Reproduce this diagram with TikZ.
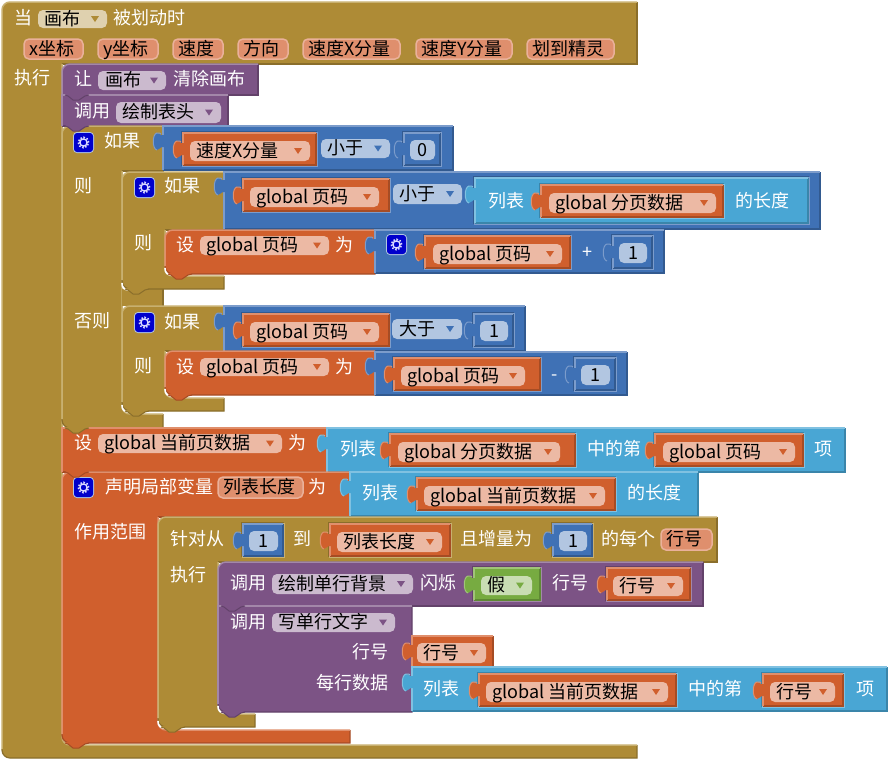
\documentclass[tikz,border=0pt]{standalone}
\usepackage{fontspec}
\setmainfont{Noto Sans CJK SC}
\definecolor{brn}{HTML}{AE8B36}\definecolor{brnL}{HTML}{C8B070}\definecolor{brnD}{HTML}{8A6E2B}
\definecolor{org}{HTML}{D05F2D}\definecolor{orgL}{HTML}{E08F6C}\definecolor{orgD}{HTML}{A64C24}
\definecolor{blu}{HTML}{3F71B5}\definecolor{bluL}{HTML}{7C9CCB}\definecolor{bluD}{HTML}{325A90}
\definecolor{cya}{HTML}{49A6D4}\definecolor{cyaL}{HTML}{80C1E1}\definecolor{cyaD}{HTML}{3A85AA}
\definecolor{pur}{HTML}{7C5385}\definecolor{purL}{HTML}{A387A9}\definecolor{purD}{HTML}{63426A}
\definecolor{grn}{HTML}{77AB41}\definecolor{grnL}{HTML}{A0C478}\definecolor{grnD}{HTML}{5F8934}
\definecolor{fOrg}{HTML}{ECB9A4}\definecolor{fBlu}{HTML}{B2C6E1}\definecolor{fPur}{HTML}{CBBACE}
\definecolor{fBrn}{HTML}{DFD1AF}\definecolor{fGrn}{HTML}{C9DDB3}\definecolor{pFill}{HTML}{DF8F6D}\definecolor{pEdge}{HTML}{EAB19A}
\newcounter{tn}
\tikzset{
  x=1pt,y=-1pt,
  lbl/.style={inner sep=0pt,anchor=west,yshift=-1.5pt,text height=12pt,text depth=3pt,font=\fontsize{18}{20}\selectfont},
  wlbl/.style={lbl,text=white},
  klbl/.style={lbl,text=black},
  edgeL/.style={line width=1.5pt,line cap=butt},
  edgeD/.style={line width=1.2pt,line cap=butt}
}
\newcommand{\tw}[3]{\stepcounter{tn}\node[wlbl] (t\thetn) at ({#1},{#2}) {#3};}
\newcommand{\tk}[3]{\stepcounter{tn}\node[klbl] (t\thetn) at ({#1},{#2}) {#3};}
\newcommand{\twr}[3]{\stepcounter{tn}\node[wlbl,anchor=east] (t\thetn) at ({#1},{#2}) {#3};}
% plain rectangular block
\newcommand{\rb}[5]{\fill[#1] (#2,#3) rectangle (#4,#5);
  \draw[#1D,edgeD] (#4,#3) -- (#4,#5) -- (#2,#5);
  \draw[#1L,edgeL] (#2,#5) -- (#2,#3) -- (#4,#3);}
% statement block with rounded corners: col x1 y1 x2 y2 rtl rbl
\newcommand{\stm}[7]{\fill[#1] (#4,#3) -- (#4,#5) [rounded corners=#7pt] -- (#2,#5) [rounded corners=#6pt] -- (#2,#3) [sharp corners] -- cycle;
  \draw[#1D,edgeD] (#4,#3) -- (#4,#5) [rounded corners=#7pt] -- (#2,#5) -- (#2,#5-#7);
  \draw[#1L,edgeL] (#2,#5-#7) [rounded corners=#6pt] -- (#2,#3) [sharp corners] -- (#4,#3);}
% C-shaped block: col x1 y1 xh yh xc yb xb ybb
\newcommand{\cshp}[9]{\fill[#1] (#2,#3+8) [rounded corners=8pt] -- (#2,#3) [sharp corners] -- (#4,#3) -- (#4,#5) -- (#6,#5) [rounded corners=8pt] -- (#6,#7) [sharp corners] -- (#8,#7) -- (#8,#9) [rounded corners=8pt] -- (#2,#9) [sharp corners] -- cycle;
  \draw[#1D,edgeD] (#4,#3) -- (#4,#5) -- (#6,#5);
  \draw[#1D,edgeD] (#8,#7) -- (#8,#9) [rounded corners=8pt] -- (#2,#9) -- (#2,#9-9);
  \draw[#1L,edgeL] (#2,#9-9) [rounded corners=8pt] -- (#2,#3) [sharp corners] -- (#4,#3);
  \draw[#1L,edgeL] (#6,#5) [rounded corners=8pt] -- (#6,#7) [sharp corners] -- (#8,#7);}
% puzzle tab on the left of a block: col x ytop
\newcommand{\tabb}[3]{\fill[#1] (#2+1,#3+2) .. controls (#2-3,#3+3) and (#2-3,#3) .. (#2-6,#3)
   .. controls (#2-11,#3+1) and (#2-11,#3+16) .. (#2-6,#3+17)
   .. controls (#2-3,#3+17) and (#2-3,#3+13) .. (#2+1,#3+14) -- cycle;
  \draw[#1L,line width=1pt] (#2-2,#3+1) .. controls (#2-3,#3) .. (#2-6,#3)
   .. controls (#2-11,#3+1) and (#2-11,#3+16) .. (#2-6,#3+17);}
% dropdown field: fill arrow x1 y1 x2 y2 textx text
\newcommand{\fd}[8]{\fill[#1,rounded corners=5pt] (#3,#4) rectangle (#5,#6);
  \fill[#2] ({#5-16},{(#4)/2+(#6)/2-3}) -- ({#5-8},{(#4)/2+(#6)/2-3}) -- ({#5-12},{(#4)/2+(#6)/2+3}) -- cycle;
  \tk{#7}{(#4)/2+(#6)/2}{#8}}
% socket outline in the parent's colours: parent x ytop x2 ybottom
\newcommand{\sock}[5]{\draw[#1D,line width=1.5pt] (#2-1,#5+1) -- (#2-1,#3-1) -- (#4+1,#3-1);
  \draw[#1L,line width=1.5pt] (#4+1,#3-1) -- (#4+1,#5+1) -- (#2-1,#5+1);}
% variable value block inside a socket: [parent] x ytop x2 fieldx1 fieldx2 text
\newcommand{\varb}[7][blu]{\sock{#1}{#2}{#3}{#4}{#3+32}
  \rb{org}{#2}{#3}{#4}{#3+32}
  \tabb{org}{#2}{#3+8}
  \fd{fOrg}{org}{#5}{#3+8}{#6}{#3+28}{#5+6}{#7}}
% number block: [parent] x y x2 text
\newcommand{\numb}[5][blu]{\sock{#1}{#2}{#3}{#4}{#3+32}
  \rb{blu}{#2}{#3}{#4}{#3+32}
  \tabb{blu}{#2}{#3+8}
  \fill[fBlu,rounded corners=5pt] (#2+6,#3+7) rectangle (#4-5,#3+27);
  \stepcounter{tn}\node[klbl,anchor=center] (t\thetn) at (#2/2+#4/2+0.5,#3+17) {#5};}
% parameter pill
\newcommand{\pil}[5]{\fill[pFill,draw=pEdge,line width=1.5pt,rounded corners=5pt] (#1,#2) rectangle (#3,#4);
  \tk{#1+5}{(#2)/2+(#4)/2}{#5}}
% notch tab hanging under a block: col x y
\newcommand{\nt}[3]{\fill[#1] (#2+3,#3-1) -- (#2+6,#3+1) -- (#2+11,#3+5) -- (#2+17,#3+5) -- (#2+23,#3+1) -- (#2+27,#3-1) -- cycle;
  \draw[#1D,line width=1pt] (#2+3,#3) -- (#2+6,#3+1) -- (#2+11,#3+5) -- (#2+17,#3+5) -- (#2+23,#3+1) -- (#2+27,#3);}
% gear icon
\newcommand{\gear}[2]{\fill[fBlu,rounded corners=4pt] (#1-1,#2-1) rectangle (#1+20,#2+20);
  \fill[blue!80!black,rounded corners=3pt] (#1,#2) rectangle (#1+19,#2+19);
  \draw[white!85!blue,line width=1.4pt] (#1+9.5,#2+9.5) circle (3.6pt);
  \draw[white!85!blue,line width=1.6pt,dash pattern=on 1.6pt off 1.6pt] (#1+9.5,#2+9.5) circle (5.2pt);}
% white sliver under a rounded corner: x ybottom
\newcommand{\sliv}[2]{\draw[white,line width=1.6pt] (#1,#2-7) .. controls (#1,#2-2) and (#1+2,#2) .. (#1+8,#2) -- (#1+20,#2);}
\begin{document}
\begin{tikzpicture}
\useasboundingbox (0,0) rectangle (891,761);
\fill[white] (0,0) rectangle (891,761);
% event block
\cshp{brn}{2}{2}{637}{64}{62}{745}{637}{758}
\tw{14}{18}{当}\fd{fBrn}{brn}{38}{10}{107}{28}{44}{画布}\tw{113}{18}{被划动时}
\pil{24}{39}{83}{59}{x坐标}\pil{98}{39}{158}{59}{y坐标}\pil{173}{39}{223}{59}{速度}\pil{238}{39}{288}{59}{方向}
\pil{303}{39}{400}{59}{速度X分量}\pil{416}{39}{512}{59}{速度Y分量}\pil{527}{39}{614}{59}{划到精灵}
\tw{14}{78}{执行}
% clear + header
\stm{pur}{62}{64}{258}{95}{8}{0}
\tw{74}{79}{让}\fd{fPur}{pur}{98}{71}{166}{90}{105}{画布}\tw{173}{79}{清除画布}
\stm{pur}{62}{95}{228}{126}{0}{0}
\tw{74}{111}{调用}\fd{fPur}{pur}{116}{102}{221}{123}{122}{绘制表头}
% outer if
\cshp{brn}{62}{126}{163}{171}{122}{414}{163}{428}
\fill[brn] (122,289) rectangle (163,306); \draw[brnD,edgeD] (163,289) -- (163,306);
\gear{74}{133}\tw{104}{141}{如果}\tw{74}{186}{则}\tw{74}{321}{否则}
\rb{blu}{163}{126}{453}{170}\tabb{blu}{163}{133}
\varb{183}{133}{316}{190}{310}{速度X分量}
\fd{fBlu}{blu}{321}{139}{390}{158}{327}{小于}
\numb{404}{133}{440}{0}
% inner if 1
\cshp{brn}{122}{172}{224}{230}{165}{276}{224}{289}
\gear{135}{178}\tw{164}{186}{如果}\tw{134}{243}{则}
\rb{blu}{224}{172}{820}{229}\tabb{blu}{224}{178}
\varb{243}{179}{389}{250}{379}{global 页码}
\fd{fBlu}{blu}{393}{184}{462}{204}{399}{小于}
\sock{blu}{475}{178}{808}{223}
\rb{cya}{475}{178}{808}{223}\tabb{cya}{475}{186}
\tw{488}{201}{列表}\varb[cya]{541}{185}{723}{549}{716}{global 分页数据}\tw{735}{201}{的长度}
\stm{org}{165}{230}{375}{274}{8}{8}\sliv{165}{275}
\tw{176}{245}{设}\fd{fOrg}{org}{200}{236}{329}{255}{206}{global 页码}\tw{335}{245}{为}
\rb{blu}{375}{230}{664}{273}\tabb{blu}{375}{237}
\gear{387}{235}\varb{425}{236}{570}{433}{562}{global 页码}\tw{582}{252}{+}\numb{613}{236}{652}{1}
% inner if 2
\cshp{brn}{122}{306}{224}{351}{165}{398}{224}{411}
\gear{135}{313}\tw{164}{322}{如果}\tw{134}{366}{则}
\rb{blu}{224}{306}{525}{351}\tabb{blu}{224}{313}
\varb{243}{314}{389}{250}{379}{global 页码}
\fd{fBlu}{blu}{392}{319}{462}{339}{399}{大于}
\numb{474}{314}{513}{1}
\stm{org}{165}{351}{375}{395}{8}{8}\sliv{165}{396}
\tw{176}{367}{设}\fd{fOrg}{org}{200}{358}{329}{376}{206}{global 页码}\tw{335}{367}{为}
\rb{blu}{375}{352}{627}{395}\tabb{blu}{375}{358}
\varb{394}{358}{540}{401}{525}{global 页码}\tw{551}{374}{-}\numb{575}{358}{615}{1}
% set current page data
\stm{org}{62}{428}{327}{472}{0}{0}
\tw{74}{443}{设}\fd{fOrg}{org}{98}{434}{282}{453}{104}{global 当前页数据}\tw{288}{443}{为}
\rb{cya}{327}{428}{845}{472}\tabb{cya}{327}{435}
\tw{340}{449}{列表}\varb[cya]{390}{434}{575}{398}{560}{global 分页数据}\tw{587}{449}{中的第}
\varb[cya]{655}{434}{803}{663}{795}{global 页码}\tw{814}{449}{项}
% local variable
\cshp{org}{62}{472}{350}{517}{158}{730}{350}{743}
\gear{74}{478}\tw{105}{487}{声明局部变量}\pil{218}{477}{303}{498}{列表长度}\tw{308}{487}{为}\tw{74}{532}{作用范围}
\rb{cya}{350}{472}{698}{516}\tabb{cya}{350}{479}
\tw{362}{493}{列表}\varb[cya]{417}{478}{615}{424}{605}{global 当前页数据}\tw{627}{493}{的长度}
% for loop
\cshp{brn}{158}{517}{717}{562}{218}{714}{255}{727}
\tw{170}{539}{针对从}\numb[brn]{243}{524}{283}{1}\tw{293}{539}{到}
\varb[brn]{330}{524}{450}{337}{442}{列表长度}\tw{460}{539}{且增量为}\numb[brn]{553}{524}{592}{1}\tw{601}{539}{的每个}
\pil{661}{529}{712}{550}{行号}\tw{170}{575}{执行}
% call 1
\stm{pur}{218}{562}{703}{606}{8}{0}
\tw{230}{583}{调用}\fd{fPur}{pur}{272}{574}{413}{594}{278}{绘制单行背景}\tw{420}{583}{闪烁}
\sock{pur}{474}{568}{540}{600}\rb{grn}{474}{568}{540}{600}\tabb{grn}{474}{576}
\fd{fGrn}{grn}{481}{576}{532}{595}{487}{假}\tw{552}{583}{行号}
\varb[pur]{607}{568}{690}{613}{683}{行号}
% call 2
\stm{pur}{218}{606}{412}{712}{0}{8}\sliv{218}{713}
\tw{230}{622}{调用}\fd{fPur}{pur}{272}{613}{395}{632}{278}{写单行文字}
\twr{389}{652}{行号}\twr{389}{683}{每行数据}
\rb{org}{412}{636}{493}{667}\tabb{org}{412}{643}
\fd{fOrg}{org}{417}{643}{486}{663}{423}{行号}
\rb{cya}{412}{667}{887}{711}\tabb{cya}{412}{674}
\tw{423}{689}{列表}\varb[cya]{479}{674}{676}{486}{668}{global 当前页数据}\tw{688}{689}{中的第}
\varb[cya]{763}{674}{843}{770}{835}{行号}\tw{856}{689}{项}
\sliv{158}{728}\sliv{122}{290}\sliv{122}{412}
% notches
\nt{pur}{62}{95}\nt{pur}{62}{126}\nt{brn}{62}{428}\nt{org}{62}{472}\nt{org}{62}{743}
\nt{brn}{122}{289}\nt{brn}{122}{411}\nt{org}{165}{274}\nt{org}{165}{395}
\nt{brn}{158}{727}\nt{pur}{218}{606}\nt{pur}{218}{712}
\end{tikzpicture}
\end{document}
